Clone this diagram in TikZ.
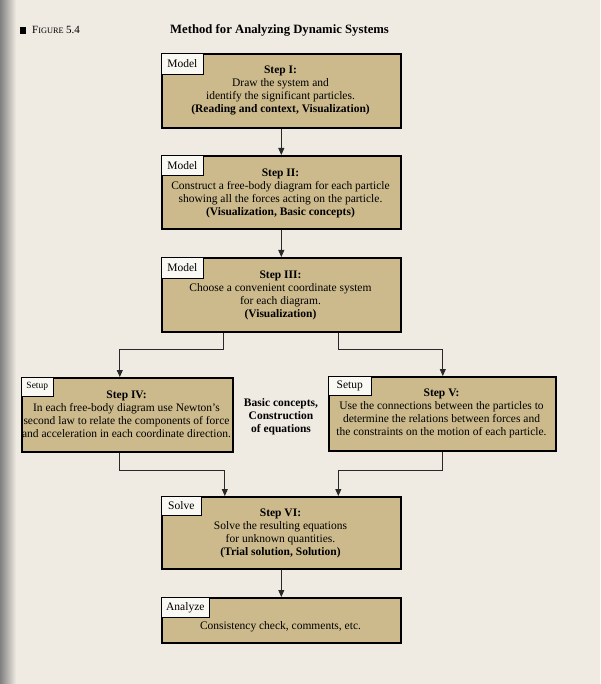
\documentclass[tikz,border=0pt]{standalone}
\usepackage{fontspec}
\setmainfont{Liberation Serif}
\usetikzlibrary{arrows.meta,calc}
\definecolor{paper}{RGB}{239,234,226}
\definecolor{boxfill}{RGB}{204,186,140}
\definecolor{lblfill}{RGB}{250,248,242}
\definecolor{conncol}{RGB}{40,40,40}
\begin{document}
\begin{tikzpicture}[x=1pt,y=-1pt,
  stepbox/.style={draw=black,line width=1.6pt,fill=boxfill,rectangle,inner sep=0pt,anchor=north west},
  lbl/.style={draw=black,line width=0.6pt,fill=lblfill,rectangle,inner sep=0pt,anchor=north west,
    minimum height=20pt,font=\fontsize{11.5}{13}\selectfont},
  steptext/.style={align=center,inner sep=0pt,font=\fontsize{11.5}{13}\selectfont},
  conn/.style={draw=conncol,line width=0.8pt,-{Triangle[length=7pt,width=6pt]}}
]
\useasboundingbox (0,0) rectangle (600,684);
\fill[paper] (0,0) rectangle (600,684);
\shade[left color=black!50,right color=paper] (0,0) rectangle (16,684);

% heading
\fill[black] (20,27) coordinate (sqa) rectangle (26,34) coordinate (sqb);
\node[anchor=base west,inner sep=0pt] (fig) at (32,34)
  {{\fontsize{11}{12}\selectfont F}{\fontsize{8.3}{12}\selectfont IGURE} {\fontsize{11}{12}\selectfont 5.4}};
\node[anchor=base west,inner sep=0pt,font=\fontsize{12.7}{14}\selectfont\bfseries] (title) at (170,34)
  {Method for Analyzing Dynamic Systems};

% boxes
\node[stepbox,minimum width=239pt,minimum height=74pt] (s1) at (161,53) {};
\node[stepbox,minimum width=239pt,minimum height=73pt] (s2) at (161,155) {};
\node[stepbox,minimum width=239pt,minimum height=74pt] (s3) at (161,257) {};
\node[stepbox,minimum width=211pt,minimum height=74pt] (s4) at (21,377) {};
\node[stepbox,minimum width=227pt,minimum height=74pt] (s5) at (328,376) {};
\node[stepbox,minimum width=239pt,minimum height=72pt] (s6) at (161,496) {};
\node[stepbox,minimum width=239pt,minimum height=45pt] (s7) at (161,597) {};

% labels
\node[lbl,minimum width=42pt,minimum height=21pt] (l1) at (161,53) {Model};
\node[lbl,minimum width=42pt] (l2) at (161,155) {Model};
\node[lbl,minimum width=42pt,minimum height=21pt] (l3) at (161,257) {Model};
\node[lbl,minimum width=32pt,minimum height=19pt,font=\fontsize{9.5}{11}\selectfont] (l4) at (21,377) {Setup};
\node[lbl,minimum width=43pt,minimum height=19pt] (l5) at (328,376) {Setup};
\node[lbl,minimum width=40pt,minimum height=19pt] (l6) at (161,496) {Solve};
\node[lbl,minimum width=48pt] (l7) at (161,597) {Analyze};

% texts
\node[steptext] (t1) at (280.5,90) {\textbf{Step I:}\\Draw the system and\\identify the significant particles.\\\textbf{(Reading and context, Visualization)}};
\node[steptext] (t2) at (280.5,193) {\textbf{Step II:}\\Construct a free-body diagram for each particle\\showing all the forces acting on the particle.\\\textbf{(Visualization, Basic concepts)}};
\node[steptext] (t3) at (280.5,295) {\textbf{Step III:}\\Choose a convenient coordinate system\\for each diagram.\\\textbf{(Visualization)}};
\node[steptext] (t4) at (126.5,414) {\textbf{Step IV:}\\In each free-body diagram use Newton's\\second law to relate the components of force\\and acceleration in each coordinate direction.};
\node[steptext] (t5) at (441.5,413) {\textbf{Step V:}\\Use the connections between the particles to\\determine the relations between forces and\\the constraints on the motion of each particle.};
\node[steptext,font=\fontsize{11.5}{13}\selectfont\bfseries] (bc) at (281,417) {Basic concepts,\\Construction\\of equations};
\node[steptext] (t6) at (280.5,533) {\textbf{Step VI:}\\Solve the resulting equations\\for unknown quantities.\\\textbf{(Trial solution, Solution)}};
\node[steptext] (t7) at (280.5,627) {Consistency check, comments, etc.};

% connectors
\draw[conn] (s1.south) -- (s2.north);
\draw[conn] (s2.south) -- (s3.north);
\draw[conn] ([xshift=-57.5pt]s3.south) -- ++(0,17) -| ([xshift=-7.5pt]s4.north);
\draw[conn] ([xshift=57.5pt]s3.south) -- ++(0,17) -| ([xshift=0.5pt]s5.north);
\draw[conn] ([xshift=-7.5pt]s4.south) -- ++(0,18) -| ([xshift=-56.5pt]s6.north);
\draw[conn] ([xshift=0.5pt]s5.south) -- ++(0,19) -| ([xshift=57pt]s6.north);
\draw[conn] (s6.south) -- (s7.north);
\end{tikzpicture}
\end{document}
